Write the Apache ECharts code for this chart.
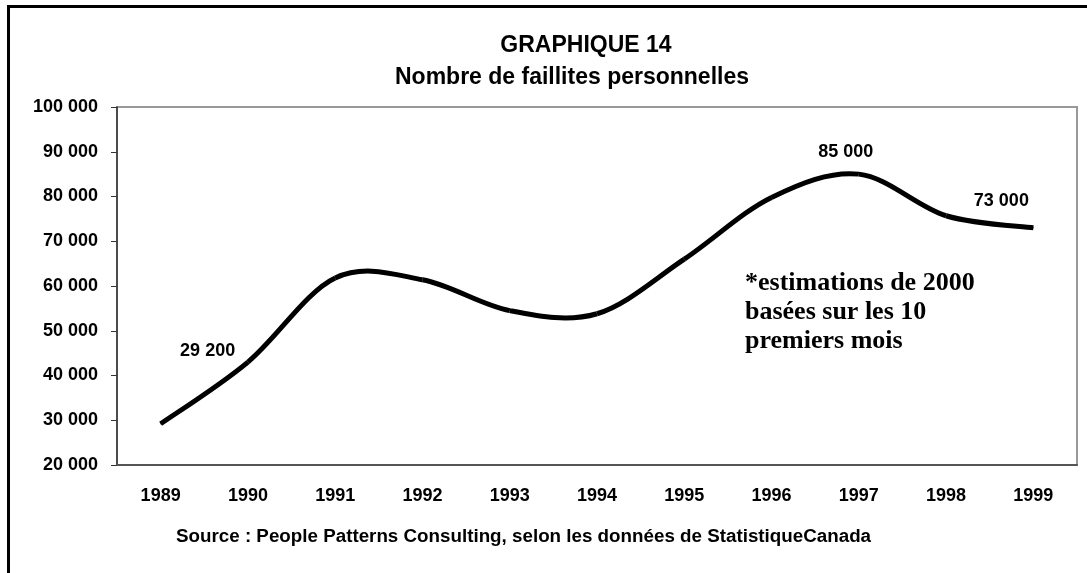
<!DOCTYPE html>
<html>
<head>
<meta charset="utf-8">
<title>Graphique 14</title>
<script src="https://cdn.jsdelivr.net/npm/echarts@6/dist/echarts.min.js"></script>
<style>
  html, body { margin: 0; padding: 0; background: #fff; }
  #chart { width: 1087px; height: 573px; }
</style>
</head>
<body>
<div id="chart"></div>
<script>
  // Données
  const years = ['1989', '1990', '1991', '1992', '1993', '1994', '1995', '1996', '1997', '1998', '1999']
  const faillites = [29200, 43000, 61800, 61400, 54500, 53800, 66000, 79800, 85000, 75700, 73000]
  const yTicks = { min: 20000, max: 100000, step: 10000 }
  const noteLines = ['*estimations de 2000', 'basées sur les 10', 'premiers mois']
  const sourceText = 'Source : People Patterns Consulting, selon les données de StatistiqueCanada'

  const fmt = (v) => String(v).replace(/\B(?=(\d{3})+(?!\d))/g, ' ')

  // étiquettes affichées seulement sur certains points
  const labelOffsets = { 0: [47, -73], 8: [-13, -22], 10: [-32, -27] }

  const labelData = faillites.map((v, i) => {
    if (!(i in labelOffsets)) return [i, v]
    return {
      value: [i, v],
      label: { show: true, position: 'inside', offset: labelOffsets[i] },
    }
  })

  // courbe lissée façon Excel (Catmull-Rom -> Bézier), un segment par point
  const renderSegment = (params, api) => {
    const i = params.dataIndex
    if (i >= faillites.length - 1) return null
    const pt = (k) => {
      const j = Math.max(0, Math.min(faillites.length - 1, k))
      return api.coord([j, faillites[j]])
    }
    const p0 = pt(i - 1), p1 = pt(i), p2 = pt(i + 1), p3 = pt(i + 2)
    return {
      type: 'bezierCurve',
      shape: {
        x1: p1[0], y1: p1[1],
        cpx1: p1[0] + (p2[0] - p0[0]) / 6, cpy1: p1[1] + (p2[1] - p0[1]) / 6,
        cpx2: p2[0] - (p3[0] - p1[0]) / 6, cpy2: p2[1] - (p3[1] - p1[1]) / 6,
        x2: p2[0], y2: p2[1],
      },
      style: { stroke: '#000', lineWidth: 5, fill: null, lineCap: 'butt' },
    }
  }

  const font = 'Liberation Sans, Arial, sans-serif'
  const chart = echarts.init(document.getElementById('chart'))

  chart.setOption({
    animation: false,
    backgroundColor: '#fff',
    title: [
      {
        text: 'GRAPHIQUE 14',
        left: 581, top: 29, textAlign: 'center',
        textStyle: { fontFamily: font, fontWeight: 'bold', fontSize: 23, color: '#000' },
      },
      {
        text: 'Nombre de faillites personnelles',
        left: 567, top: 61, textAlign: 'center',
        textStyle: { fontFamily: font, fontWeight: 'bold', fontSize: 23, color: '#000' },
      },
    ],
    grid: {
      left: 117, top: 107, width: 960, height: 358,
      show: true, borderColor: '#999', borderWidth: 2,
      containLabel: false,
    },
    xAxis: {
      type: 'category',
      data: years,
      boundaryGap: true,
      axisLine: { lineStyle: { color: '#555', width: 2 } },
      axisTick: { length: 7, lineStyle: { color: '#333' } },
      axisLabel: { fontFamily: font, fontWeight: 'bold', fontSize: 18, color: '#000', margin: 22 },
    },
    yAxis: {
      type: 'value',
      min: yTicks.min, max: yTicks.max, interval: yTicks.step,
      axisLine: { show: true, lineStyle: { color: '#333', width: 1.5 } },
      axisTick: { show: true, length: 6, lineStyle: { color: '#333' } },
      splitLine: { show: false },
      axisLabel: { fontFamily: font, fontWeight: 'bold', fontSize: 18, color: '#000', margin: 19, formatter: fmt },
    },
    series: [
      {
        type: 'custom',
        renderItem: renderSegment,
        data: faillites.map((v, i) => [i, v]),
        encode: { x: 0, y: 1 },
        z: 3,
      },
      {
        // étiquettes des valeurs
        type: 'scatter',
        data: labelData,
        symbolSize: 1,
        itemStyle: { color: '#000', opacity: 1 },
        label: {
          show: false,
          formatter: (p) => fmt(p.value[1]),
          fontFamily: font, fontWeight: 'bold', fontSize: 18, color: '#000', opacity: 1,
        },
        z: 4,
      },
    ],
    graphic: [
      {
        type: 'polyline',
        shape: { points: [[8.5, 600], [8.5, 6.5], [1100, 6.5]] },
        style: { stroke: '#000', lineWidth: 3, fill: null },
        silent: true,
      },
      ...noteLines.map((t, i) => ({
        type: 'text',
        left: 745, top: 270 + i * 29,
        style: { text: t, font: 'bold 26px "Liberation Serif", "Times New Roman", serif', fill: '#000' },
      })),
      {
        type: 'text',
        left: 176, top: 527,
        style: { text: sourceText, font: 'bold 18.8px "Liberation Sans", Arial, sans-serif', fill: '#000' },
      },
    ],
  })
</script>
</body>
</html>
